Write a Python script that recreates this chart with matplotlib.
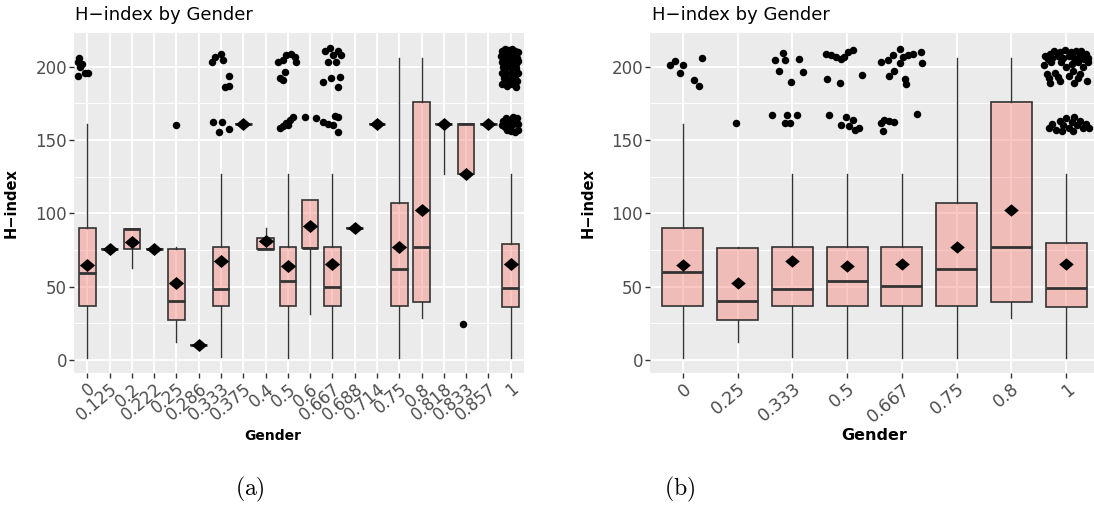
import numpy as np
import matplotlib
matplotlib.use("Agg")
import matplotlib.pyplot as plt

plt.rcParams['font.family'] = ['DejaVu Sans']
plt.rcParams['mathtext.fontset'] = 'cm'

# ---- panel (a): every gender ratio ----
cats_a = ['0', '0.125', '0.2', '0.222', '0.25', '0.286', '0.333', '0.375', '0.4', '0.5',
          '0.6', '0.667', '0.688', '0.714', '0.75', '0.8', '0.818', '0.833', '0.857', '1']
lo_a = [1, 76, 62.5, 76, 12, 10, 2.3, 161, 75.5, 1, 31.2, 1, 90, 161, 1, 28.4, 127, 127, 161, 1]
q1_a = [37, 76, 75.7, 76, 27.3, 10, 37, 161, 75.5, 37, 76.1, 37, 90, 161, 37, 39.3, 161, 127, 161, 36.1]
med_a = [59.5, 76, 89, 76, 40.2, 10, 48.4, 161, 76, 53.9, 76.6, 50, 90, 161, 62, 76.8, 161, 161, 161, 49.3]
q3_a = [90, 76, 89.5, 76, 76, 10, 76.8, 161, 83, 76.8, 109, 76.8, 90, 161, 107.3, 176, 161, 161, 161, 79.3]
hi_a = [161, 76, 89.5, 76, 76.7, 10, 127, 161, 90, 127, 109, 127, 90, 161, 205.7, 205.7, 161, 161, 161, 127]
mean_a = [64.8, 76, 80.4, 76, 52.7, 10, 67.5, 161, 81, 64.1, 91.4, 65.2, 90, 161, 77, 102.3, 161, 127, 161, 65.2]

# jittered outliers (category, jitter offset, H-index)
pts_a = [
    ('0', -0.36, 206), ('0', -0.40, 203.5), ('0', -0.22, 202), ('0', -0.33, 200),
    ('0', -0.40, 194), ('0', -0.10, 196), ('0', 0.03, 196),
    ('0.25', -0.01, 160),
    ('0.333', -0.40, 203.4), ('0.333', -0.25, 206.8), ('0.333', 0.01, 209), ('0.333', 0.11, 204.5),
    ('0.333', 0.35, 194), ('0.333', 0.20, 186), ('0.333', 0.35, 186.8), ('0.333', -0.37, 162.3),
    ('0.333', 0.05, 162.3), ('0.333', -0.07, 155.3), ('0.333', 0.35, 157.3),
    ('0.5', -0.45, 203.4), ('0.5', -0.22, 204.5), ('0.5', -0.07, 208), ('0.5', 0.16, 209),
    ('0.5', 0.30, 206.8), ('0.5', 0.38, 203.4), ('0.5', -0.15, 196.6), ('0.5', -0.37, 192),
    ('0.5', -0.22, 190.9), ('0.5', -0.37, 158), ('0.5', -0.22, 159.5), ('0.5', -0.07, 161.4),
    ('0.5', 0.08, 163.6), ('0.5', 0.23, 165.9), ('0.5', 0.00, 160.2),
    ('0.6', -0.25, 165.9), ('0.6', 0.28, 164.8),
    ('0.667', -0.42, 162.5), ('0.667', -0.20, 160.9), ('0.667', 0.03, 160.2), ('0.667', 0.10, 166.4),
    ('0.667', 0.25, 165.9), ('0.667', 0.25, 155.7),
    ('0.667', -0.35, 211), ('0.667', -0.12, 212.5), ('0.667', 0.25, 211), ('0.667', 0.40, 208),
    ('0.667', 0.02, 208), ('0.667', -0.20, 203.4), ('0.667', 0.18, 203.4), ('0.667', -0.43, 189.8),
    ('0.667', -0.05, 192), ('0.667', 0.33, 193.2), ('0.667', 0.25, 186.4),
    ('0.833', -0.13, 24.5),
    ('1', -0.40, 211), ('1', -0.25, 212), ('1', -0.10, 211.5), ('1', 0.05, 212), ('1', 0.20, 211),
    ('1', 0.33, 210), ('1', -0.42, 207), ('1', -0.28, 208), ('1', -0.12, 206), ('1', 0.02, 208),
    ('1', 0.15, 207), ('1', 0.30, 206), ('1', -0.38, 203), ('1', -0.22, 204), ('1', -0.05, 202),
    ('1', 0.10, 203), ('1', 0.25, 202), ('1', 0.35, 204), ('1', -0.35, 200), ('1', -0.15, 199.5),
    ('1', 0.05, 200), ('1', 0.22, 199), ('1', -0.40, 196), ('1', -0.20, 195), ('1', 0.00, 196),
    ('1', 0.18, 194), ('1', 0.32, 196), ('1', -0.30, 192), ('1', -0.10, 191), ('1', 0.10, 192),
    ('1', 0.28, 190), ('1', -0.38, 188), ('1', -0.15, 187), ('1', 0.05, 188), ('1', 0.22, 186),
    ('1', -0.35, 163), ('1', -0.20, 165), ('1', -0.05, 164), ('1', 0.12, 166), ('1', 0.28, 165),
    ('1', -0.40, 160), ('1', -0.25, 159), ('1', -0.08, 161), ('1', 0.08, 160), ('1', 0.22, 162),
    ('1', 0.35, 161), ('1', -0.15, 157), ('1', 0.02, 156), ('1', 0.18, 155.5), ('1', 0.32, 157),
]

# ---- panel (b): ratios with enough authors ----
cats_b = ['0', '0.25', '0.333', '0.5', '0.667', '0.75', '0.8', '1']
lo_b = [1, 12, 2.3, 1, 1, 1, 28.4, 1]
q1_b = [37, 27.3, 37, 37, 37, 37, 39.5, 36.1]
med_b = [60, 40.2, 48.4, 53.9, 50.2, 62.3, 77, 49.3]
q3_b = [90, 76.1, 76.8, 77, 77, 107.3, 176, 79.5]
hi_b = [161, 77, 127, 127, 127, 205.7, 205.7, 127]
mean_b = [65, 52.7, 67.5, 64, 65.2, 77, 102.3, 65.5]

pts_b = [
    ('0', -0.23, 201), ('0', -0.15, 204), ('0', -0.05, 196), ('0', 0.01, 201.5),
    ('0', 0.20, 190.7), ('0', 0.30, 187), ('0', 0.35, 206),
    ('0.25', -0.03, 161.4),
    ('0.333', -0.37, 167), ('0.333', -0.31, 204.5), ('0.333', -0.24, 197.3), ('0.333', -0.18, 209.5),
    ('0.333', -0.13, 204.5), ('0.333', -0.14, 161.4), ('0.333', -0.10, 167), ('0.333', -0.04, 161.4),
    ('0.333', -0.03, 189.5), ('0.333', 0.08, 167), ('0.333', 0.13, 205.5), ('0.333', 0.20, 196.4),
    ('0.5', -0.38, 209), ('0.5', -0.29, 208), ('0.5', -0.20, 206.8), ('0.5', -0.11, 205),
    ('0.5', -0.05, 206.4), ('0.5', 0.01, 210.2), ('0.5', 0.10, 211.4), ('0.5', -0.37, 191.4),
    ('0.5', -0.13, 189.1), ('0.5', 0.28, 194.3), ('0.5', -0.33, 167), ('0.5', -0.11, 160.2),
    ('0.5', -0.02, 165.9), ('0.5', 0.04, 159.5), ('0.5', 0.10, 163.6), ('0.5', 0.14, 156.8),
    ('0.5', 0.21, 158),
    ('0.667', -0.38, 203.4), ('0.667', -0.26, 204.5), ('0.667', -0.17, 208), ('0.667', -0.04, 211.8),
    ('0.667', 0.02, 206.4), ('0.667', 0.11, 208), ('0.667', 0.20, 209), ('0.667', 0.35, 210.2),
    ('0.667', 0.37, 202.3), ('0.667', -0.04, 202.3), ('0.667', -0.14, 197.3), ('0.667', -0.23, 193.6),
    ('0.667', 0.05, 191.4), ('0.667', 0.07, 188.2), ('0.667', -0.38, 161.8), ('0.667', -0.32, 163.6),
    ('0.667', -0.23, 163.1), ('0.667', -0.14, 162.5), ('0.667', -0.35, 156.4), ('0.667', 0.28, 167.5),
    ('1', -0.38, 207), ('1', -0.30, 209), ('1', -0.22, 211), ('1', -0.12, 210), ('1', -0.02, 211.5),
    ('1', 0.08, 210), ('1', 0.18, 211), ('1', 0.28, 210.5), ('1', 0.36, 209), ('1', -0.34, 205),
    ('1', -0.25, 206), ('1', -0.15, 207), ('1', -0.05, 206), ('1', 0.05, 207.5), ('1', 0.15, 206),
    ('1', 0.25, 207), ('1', 0.33, 205), ('1', 0.40, 206), ('1', -0.28, 203), ('1', -0.10, 203.5),
    ('1', 0.10, 202), ('1', 0.22, 203), ('1', 0.40, 203), ('1', -0.40, 201), ('1', 0.00, 200),
    ('1', 0.30, 200), ('1', -0.35, 195), ('1', -0.20, 196), ('1', 0.12, 197), ('1', 0.25, 195),
    ('1', -0.32, 192), ('1', -0.15, 193), ('1', 0.05, 194), ('1', 0.22, 192), ('1', -0.30, 189),
    ('1', -0.12, 190), ('1', 0.15, 189), ('1', 0.38, 190),
    ('1', -0.32, 158), ('1', -0.25, 161), ('1', -0.18, 157), ('1', -0.12, 163), ('1', -0.05, 160),
    ('1', 0.00, 165), ('1', 0.05, 158), ('1', 0.10, 162), ('1', 0.15, 166), ('1', 0.20, 160),
    ('1', 0.25, 163), ('1', 0.30, 158), ('1', 0.36, 161), ('1', 0.42, 158), ('1', -0.08, 156),
    ('1', 0.12, 156),
]

BOX_FILL = (0.973, 0.463, 0.427, 0.4)   # ggplot red at alpha 0.4
DARK = '#333333'
DIAMOND = [(-1, 0), (0, 0.85), (1, 0), (0, -0.85), (-1, 0)]


def draw_panel(ax, cats, lo, q1, med, q3, hi, mean, pts, diamond_ms, xlab_size):
    pos = np.arange(len(cats))
    stats = [dict(whislo=a, q1=b, med=c, q3=d, whishi=e, fliers=[])
             for a, b, c, d, e in zip(lo, q1, med, q3, hi)]

    ax.set_facecolor('#EBEBEB')
    ax.set_axisbelow(True)
    for s in ax.spines.values():
        s.set_visible(False)

    ax.bxp(stats, positions=pos, widths=0.75, patch_artist=True,
           showcaps=False, showfliers=False, manage_ticks=False,
           boxprops=dict(facecolor=BOX_FILL, edgecolor=DARK, linewidth=1.2),
           medianprops=dict(color=DARK, linewidth=2.0),
           whiskerprops=dict(color=DARK, linewidth=1.0), zorder=2)

    idx = {c: i for i, c in enumerate(cats)}
    px = [idx[c] + off for c, off, v in pts]
    py = [v for c, off, v in pts]
    ax.plot(px, py, 'o', color='black', ms=5.4, mew=0, zorder=3)

    ax.plot(pos, mean, linestyle='none', marker=DIAMOND, ms=diamond_ms,
            color='black', mew=0, zorder=4)

    ax.set_xlim(-0.6, len(cats) - 0.4)
    ax.set_ylim(-8.9, 223)
    ax.set_xticks(pos)
    ax.set_xticklabels(cats)
    ax.set_yticks([0, 50, 100, 150, 200])
    ax.set_yticks([25, 75, 125, 175], minor=True)
    ax.grid(which='major', color='white', linewidth=1.3)
    ax.grid(which='minor', axis='y', color='white', linewidth=0.7)
    ax.tick_params(which='major', length=3.5, width=1, color=DARK,
                   labelcolor='#4D4D4D', labelsize=12, pad=1.5)
    ax.tick_params(axis='x', labelsize=xlab_size)
    ax.tick_params(which='minor', length=0)
    for lbl in ax.get_xticklabels():
        lbl.set_rotation(40)
        lbl.set_ha('right')
        lbl.set_va('top')
        lbl.set_rotation_mode('anchor')

    ax.set_ylabel('H\u2212index', fontweight='bold', fontsize=10.5, color='black')
    ax.yaxis.set_label_coords(-0.122, 0.5)


fig = plt.figure(figsize=(10.94, 5.08), dpi=100)
W, H = 1094, 508
ax_a = fig.add_axes([74 / W, 1 - 373 / H, 450 / W, 340 / H])
ax_b = fig.add_axes([650 / W, 1 - 373 / H, 449 / W, 340 / H])

draw_panel(ax_a, cats_a, lo_a, q1_a, med_a, q3_a, hi_a, mean_a, pts_a, 11, 12)
draw_panel(ax_b, cats_b, lo_b, q1_b, med_b, q3_b, hi_b, mean_b, pts_b, 10.5, 12.5)

ax_a.set_xlabel('Gender', fontweight='bold', fontsize=10, color='black')
ax_a.xaxis.set_label_coords((273 - 74) / 450, -(436 - 373) / 340, transform=ax_a.transAxes)
ax_a.xaxis.label.set_va('center')
ax_b.set_xlabel('Gender', fontweight='bold', fontsize=11.5, color='black')
ax_b.xaxis.set_label_coords(0.5, -(436 - 373) / 340, transform=ax_b.transAxes)
ax_b.xaxis.label.set_va('center')

fig.text(75 / W, 1 - 15 / H, 'H\u2212index by Gender', fontsize=13, va='center', ha='left')
fig.text(652 / W, 1 - 15 / H, 'H\u2212index by Gender', fontsize=13, va='center', ha='left')

fig.text(250 / W, 1 - 489 / H, r'$\mathrm{(a)}$', fontsize=17, ha='center', va='center')
fig.text(680 / W, 1 - 489 / H, r'$\mathrm{(b)}$', fontsize=17, ha='center', va='center')

fig.savefig('out.png', dpi=100)
